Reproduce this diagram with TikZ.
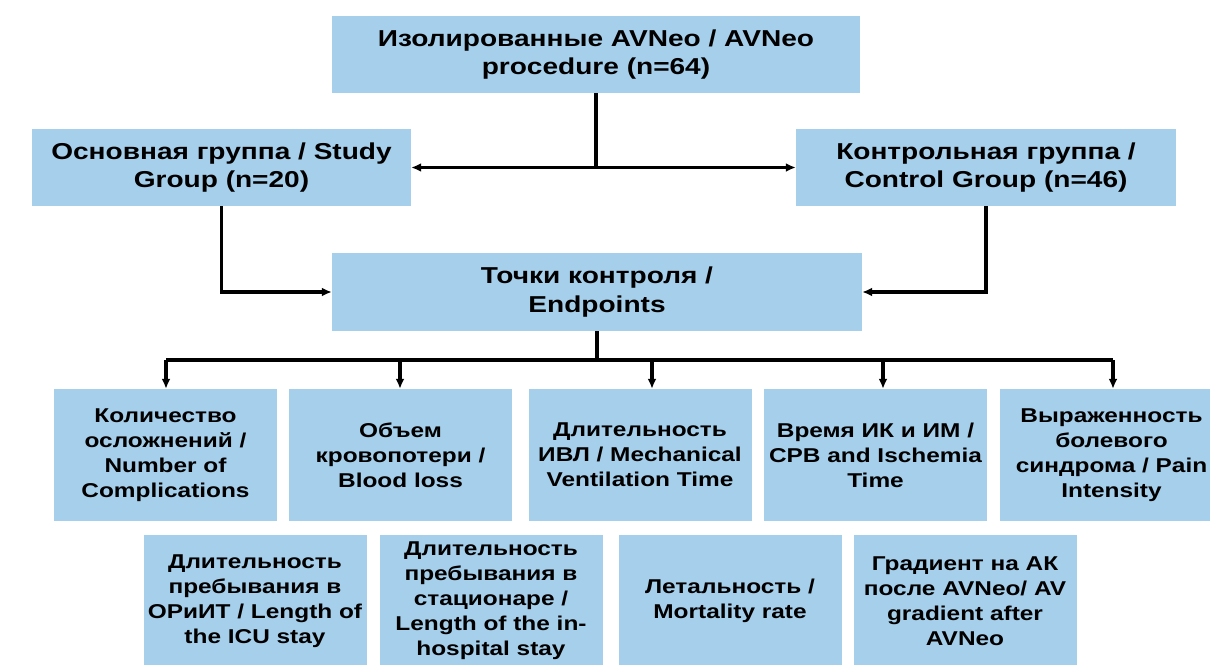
\documentclass[tikz,border=0pt]{standalone}
\usepackage{fontspec}
\setmainfont{Liberation Sans}[FakeStretch=1.22]
\usetikzlibrary{arrows.meta}
\definecolor{boxblue}{RGB}{165,207,234}
\tikzset{
    box/.style={fill=boxblue, inner sep=0pt, align=center, font=\bfseries\fontsize{23}{28.5}\selectfont},
    endbox/.style={box, minimum width=223pt, minimum height=132pt, font=\bfseries\fontsize{20}{25}\selectfont},
    link/.style={line width=3.2pt, >={Latex[length=10pt,width=9pt]}}
}

\begin{document}
\begin{tikzpicture}[x=1pt,y=-1pt]
            \useasboundingbox (0,0) rectangle (1210,664);
            \clip (0,0) rectangle (1210,664);

            \node[box, minimum width=528pt, minimum height=77pt] (top) at (596,54.5) {Изолированные AVNeo / AVNeo\\procedure (n=64)};
            \node[box, minimum width=379pt, minimum height=77pt] (study) at (221.5,167.5) {Основная группа / Study\\Group (n=20)};
            \node[box, minimum width=380pt, minimum height=77pt] (control) at (986,167.5) {Контрольная группа /\\Control Group (n=46)};
            \node[box, minimum width=530pt, minimum height=78pt] (endp) at (597,292) {Точки контроля /\\Endpoints};

            \node[endbox] (c1) at (165.5,455) {Количество\\осложнений /\\Number of\\Complications};
            \node[endbox] (c2) at (400.5,455) {Объем\\кровопотери /\\Blood loss};
            \node[endbox] (c3) at (640,455) {Длительность\\ИВЛ / Mechanical\\Ventilation Time};
            \node[endbox] (c4) at (875.5,455) {Время ИК и ИМ /\\CPB and Ischemia\\Time};
            \node[endbox] (c5) at (1111.5,455) {Выраженность\\болевого\\синдрома / Pain\\Intensity};

            \node[endbox] (d1) at (255,601) {Длительность\\пребывания в\\ОРиИТ / Length of\\the ICU stay};
            \node[endbox] (d2) at (491,601) {Длительность\\пребывания в\\стационаре /\\Length of the in-\\hospital stay};
            \node[endbox] (d3) at (730,601) {Летальность /\\Mortality rate};
            \node[endbox] (d4) at (965,601) {Градиент на АК\\после AVNeo/ AV\\gradient after\\AVNeo};

            \draw[link] (top.south) -- (top.south |- study.east);
            \draw[link,<->] (study.east) -- (control.west);
            \draw[link,->] (study.south) |- (endp.west);
            \draw[link,->] (control.south) |- (endp.east);

            \coordinate (busL) at (166,360);
            \coordinate (busR) at (1113,360);
            \draw[link] (endp.south) -- (endp.south |- busL);
            \draw[link] (busL) -- (busR);
            \foreach \n/\x in {c1/166,c2/400,c3/652,c4/883,c5/1113} {
                \coordinate (t\n) at (\x,360);
                \draw[link,->] (t\n) -- (t\n |- \n.north);
            }
\end{tikzpicture}
\end{document}
